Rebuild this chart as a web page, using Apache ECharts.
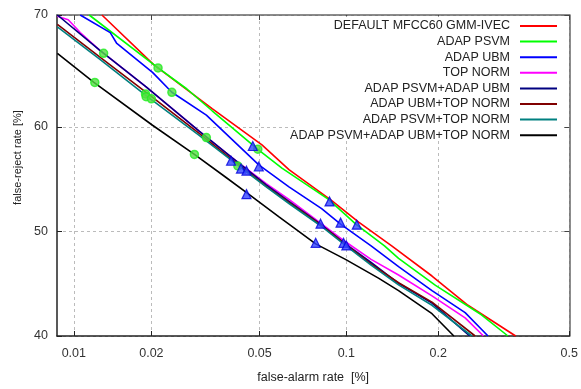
<!DOCTYPE html>
<html>
<head>
<meta charset="utf-8">
<script src="https://cdn.jsdelivr.net/npm/echarts@6/dist/echarts.min.js"></script>
<style>
  html, body { margin: 0; padding: 0; background: #fff; }
  #chart { width: 581px; height: 389px; }
</style>
</head>
<body>
<div id="chart"></div>
<script>
// DET curves, [false-alarm %, false-reject %]
const names = [
  'DEFAULT MFCC60 GMM-IVEC',
  'ADAP PSVM',
  'ADAP UBM',
  'TOP NORM',
  'ADAP PSVM+ADAP UBM',
  'ADAP UBM+TOP NORM',
  'ADAP PSVM+TOP NORM',
  'ADAP PSVM+ADAP UBM+TOP NORM',
]

const defaultMfcc = [[0.0129, 70], [0.0204, 65.7], [0.0337, 61.7], [0.051, 58.3], [0.0635, 55.95], [0.089, 53.0],
  [0.110, 50.9], [0.1415, 48.6], [0.191, 45.7], [0.248, 42.9], [0.347, 40]]
const adapPsvm = [[0.0115, 70], [0.0212, 65.4], [0.0272, 63.5], [0.0337, 61.5], [0.0497, 57.8], [0.060, 56.1],
  [0.087, 53.1], [0.1076, 50.7], [0.134, 48.6], [0.149, 47.4], [0.196, 44.8], [0.273, 42.0], [0.329, 40]]
const adapUbm = [[0.0106, 70], [0.0139, 68.5], [0.0147, 67.6], [0.0202, 65.0], [0.0239, 63.2], [0.0321, 61.1],
  [0.0497, 56.4], [0.0635, 54.3], [0.0824, 52.2], [0.0956, 50.7], [0.121, 48.6], [0.149, 46.6], [0.191, 44.3],
  [0.243, 42.2], [0.286, 40]]
const topNorm = [[0.0086, 69.9], [0.0095, 69.6], [0.0101, 69.0], [0.0106, 68.5], [0.0126, 67.0], [0.0191, 63.7],
  [0.0302, 59.6], [0.0398, 57.1], [0.0528, 54.6], [0.0635, 53.1], [0.0817, 50.8], [0.0993, 49.0], [0.121, 47.3],
  [0.149, 45.8], [0.191, 43.8], [0.243, 41.7], [0.277, 40]]
const psvmUbm = [[0.0086, 70], [0.0126, 67.0], [0.0191, 63.7], [0.0302, 59.6], [0.0398, 57.1], [0.0528, 54.5],
  [0.0635, 52.9], [0.0817, 50.7], [0.0993, 48.8], [0.121, 47.0], [0.149, 45.0], [0.191, 43.1], [0.251, 40]]
const ubmTop = [[0.0086, 69.2], [0.0126, 66.4], [0.0191, 63.2], [0.0302, 59.4], [0.0398, 56.9], [0.0528, 54.35],
  [0.0635, 52.8], [0.0817, 50.65], [0.0993, 48.75], [0.121, 46.85], [0.149, 45.05], [0.191, 43.2], [0.261, 40]]
const psvmTop = [[0.0086, 69.0], [0.0126, 66.2], [0.0191, 62.9], [0.0302, 59.2], [0.0398, 56.8], [0.0528, 54.3],
  [0.0635, 52.7], [0.0817, 50.55], [0.0993, 48.65], [0.121, 46.75], [0.149, 44.85], [0.191, 42.9], [0.255, 40]]
const allThree = [[0.0086, 66.7], [0.012, 64.1], [0.0202, 60.15], [0.029, 57.4], [0.0379, 55.2], [0.0457, 53.6],
  [0.0586, 51.4], [0.0687, 50.0], [0.0786, 48.8], [0.0993, 47.3], [0.128, 45.5], [0.149, 44.3], [0.191, 42.1],
  [0.224, 40]]

const circleMarks = [[0.0121, 64.1], [0.0131, 66.7], [0.019, 63.05], [0.0191, 62.8], [0.020, 62.6], [0.0212, 65.4],
  [0.0239, 63.2], [0.029, 57.4], [0.0321, 59.0], [0.0493, 57.9], [0.0418, 56.3]]
const triangleMarks = [[0.0473, 58.2], [0.0395, 56.8], [0.0429, 56.05], [0.0449, 55.85], [0.0497, 56.25],
  [0.0449, 53.6], [0.0877, 52.9], [0.0817, 50.75], [0.0956, 50.85], [0.1084, 50.65], [0.0786, 48.9],
  [0.0978, 48.9], [0.100, 48.65]]

const xTicks = [0.01, 0.02, 0.05, 0.1, 0.2, 0.5]
const yTicks = [40, 50, 60, 70]
const xRange = [0.00857, 0.5]
const yRange = [40, 70]

const curves = [defaultMfcc, adapPsvm, adapUbm, topNorm, psvmUbm, ubmTop, psvmTop, allThree]
const colors = ['#ff0000', '#00ff00', '#0000ff', '#ff00ff', '#000080', '#800000', '#008080', '#000000']

// inverse normal cdf (Acklam), the DET axes are normal-deviate scaled
function probit(p) {
  const a = [-3.969683028665376e1, 2.209460984245205e2, -2.759285104469687e2, 1.38357751867269e2, -3.066479806614716e1, 2.506628277459239]
  const b = [-5.447609879822406e1, 1.615858368580409e2, -1.556989798598866e2, 6.680131188771972e1, -1.328068155288572e1]
  const c = [-7.784894002430293e-3, -3.223964580411365e-1, -2.400758277161838, -2.549732539343734, 4.374664141464968, 2.938163982698783]
  const d = [7.784695709041462e-3, 3.224671290700398e-1, 2.445134137142996, 3.754408661907416]
  const pl = 0.02425
  if (p < pl) {
    const q = Math.sqrt(-2 * Math.log(p))
    return (((((c[0] * q + c[1]) * q + c[2]) * q + c[3]) * q + c[4]) * q + c[5]) / ((((d[0] * q + d[1]) * q + d[2]) * q + d[3]) * q + 1)
  }
  if (p <= 1 - pl) {
    const q = p - 0.5, r = q * q
    return (((((a[0] * r + a[1]) * r + a[2]) * r + a[3]) * r + a[4]) * r + a[5]) * q / (((((b[0] * r + b[1]) * r + b[2]) * r + b[3]) * r + b[4]) * r + 1)
  }
  const q = Math.sqrt(-2 * Math.log(1 - p))
  return -(((((c[0] * q + c[1]) * q + c[2]) * q + c[3]) * q + c[4]) * q + c[5]) / ((((d[0] * q + d[1]) * q + d[2]) * q + d[3]) * q + 1)
}
const pz = (v) => probit(v / 100)
const toDet = (pts) => pts.map(([fa, fr]) => [pz(fa), pz(fr)])

const tickLabel = (ticks) => (v) => {
  const hit = ticks.find((t) => Math.abs(pz(t) - v) < 1e-6)
  return hit === undefined ? '' : String(hit)
}

const font = 'Liberation Sans, Arial, sans-serif'
const xTickVals = xTicks.map(pz)
const yTickVals = yTicks.map(pz)
const grid = { left: 57, right: 9, top: 15, bottom: 48 }

const chart = echarts.init(document.getElementById('chart'), null, { renderer: 'canvas' })

const mirrorAxis = (extra, vals, range) => ({
  type: 'value',
  min: pz(range[0]),
  max: pz(range[1]),
  axisLine: { show: true, onZero: false, lineStyle: { color: '#666', width: 1.5 } },
  axisTick: { show: true, inside: true, length: 5, customValues: vals, lineStyle: { color: '#444' } },
  axisLabel: { show: false },
  splitLine: { show: false },
  ...extra,
})

const option = {
  animation: false,
  backgroundColor: '#fff',
  grid,
  graphic: [{
    type: 'rect',
    z: 3,
    shape: { x: 294, y: 16.5, width: 270, height: 124 },
    style: { fill: '#fff' },
  }],
  xAxis: [
    {
      type: 'value',
      min: pz(xRange[0]),
      max: pz(xRange[1]),
      name: 'false-alarm rate  [%]',
      nameLocation: 'middle',
      nameGap: 35,
      nameTextStyle: { fontSize: 12.5, color: '#222', fontFamily: font },
      axisLine: { show: true, onZero: false, lineStyle: { color: '#222', width: 1.5 } },
      axisTick: { show: true, inside: true, length: 5, customValues: xTickVals, lineStyle: { color: '#222' } },
      axisLabel: { customValues: xTickVals, formatter: tickLabel(xTicks), margin: 11, fontSize: 12.5, color: '#333', fontFamily: font },
      splitLine: { show: true, lineStyle: { type: [3, 3], color: '#bbb', width: 1 } },
    },
    mirrorAxis({ position: 'top' }, xTickVals, xRange),
  ],
  yAxis: [
    {
      type: 'value',
      min: pz(yRange[0]),
      max: pz(yRange[1]),
      name: 'false-reject rate [%]',
      nameLocation: 'middle',
      nameGap: 21,
      nameTextStyle: { fontSize: 11, color: '#222', fontFamily: font, padding: [0, 0, 0, 36] },
      axisLine: { show: true, onZero: false, lineStyle: { color: '#222', width: 1.5 } },
      axisTick: { show: true, inside: true, length: 5, customValues: yTickVals, lineStyle: { color: '#222' } },
      axisLabel: { customValues: yTickVals, formatter: tickLabel(yTicks), margin: 9, fontSize: 12.5, color: '#333', fontFamily: font },
      splitLine: { show: true, lineStyle: { type: [3, 3], color: '#bbb', width: 1 } },
    },
    mirrorAxis({ position: 'right' }, yTickVals, yRange),
  ],
  legend: names.map((n, i) => ({
    data: [n],
    orient: 'vertical',
    right: 24,
    top: 19.5 + 15.6 * i,
    align: 'right',
    icon: 'rect',
    itemWidth: 37,
    itemHeight: 2,
    padding: 0,
    selectedMode: false,
    textStyle: { fontSize: 12.5, color: '#222', fontFamily: font, padding: [0, 5, 0, 0] },
  })),
  series: [
    ...curves.map((pts, i) => ({
      type: 'line',
      name: names[i],
      data: toDet(pts),
      showSymbol: false,
      symbol: 'none',
      color: colors[i],
      lineStyle: { color: colors[i], width: 1.6 },
      itemStyle: { color: colors[i] },
      z: 2 + i * 0.01,
    })),
    {
      type: 'scatter',
      name: 'circles',
      data: toDet(circleMarks),
      symbol: 'circle',
      symbolSize: 8,
      itemStyle: { color: '#55dd44', borderColor: '#22ee22', borderWidth: 1.5 },
      z: 5,
    },
    {
      type: 'scatter',
      name: 'triangles',
      data: toDet(triangleMarks),
      symbol: 'triangle',
      symbolSize: 9,
      itemStyle: { color: '#3344ff', borderColor: '#0000dd', borderWidth: 1.2 },
      z: 6,
    },
  ],
}

chart.setOption(option)
</script>
</body>
</html>
